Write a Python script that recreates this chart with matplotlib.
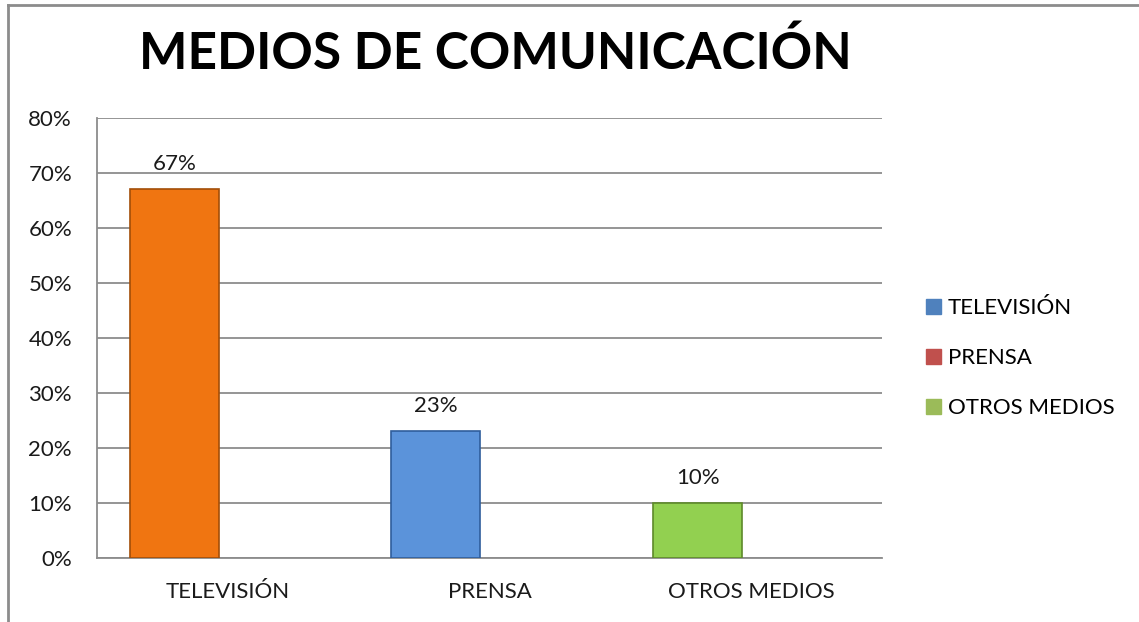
#!/usr/bin/env python

import matplotlib.pyplot as plt
import numpy as np
from matplotlib.lines import Line2D
from matplotlib.patches import Patch

categories = ["TELEVISIÓN", "PRENSA", "OTROS MEDIOS"]
values = [67, 23, 10]
bar_colors = ["#F07511", "#5B93DA", "#92D050"]
edge_colors = ["#A24E08", "#2F5E9C", "#5E8A2A"]
legend_labels = ["TELEVISIÓN", "PRENSA", "OTROS MEDIOS"]
legend_colors = ["#4F81BD", "#C0504D", "#9BBB59"]
yticks = [0, 10, 20, 30, 40, 50, 60, 70, 80]

plt.rcParams["font.family"] = ["Lato", "DejaVu Sans"]

fig = plt.figure(figsize=(11.39, 6.22), dpi=100)
ax = fig.add_axes([0.0852, 0.1029, 0.6892, 0.7074])

x = np.arange(len(categories))
bar_x = x - 0.205
bars = ax.bar(bar_x, values, width=0.34, color=bar_colors,
              edgecolor=edge_colors, linewidth=1.2, zorder=3)
for b, v in zip(bars, values):
    ax.annotate(f"{v}%", xy=(b.get_x() + b.get_width() / 2, v),
                xytext=(0, 11), textcoords="offset points",
                ha="center", va="bottom", fontsize=16, color="#1a1a1a")

ax.set_xlim(-0.5, 2.5)
ax.set_ylim(0, 80)
ax.set_yticks(yticks)
ax.set_yticklabels([f"{t}%" for t in yticks])
ax.set_xticks(x)
ax.set_xticklabels(categories)
ax.tick_params(axis="y", length=0, pad=18, labelsize=16, labelcolor="#1a1a1a")
ax.tick_params(axis="x", length=0, pad=17, labelsize=16, labelcolor="#1a1a1a")
ax.grid(axis="y", color="#8c8c8c", linewidth=1.3, zorder=0)
for s in ["top", "right"]:
    ax.spines[s].set_visible(False)
ax.spines["left"].set_color("#8c8c8c")
ax.spines["left"].set_linewidth(1.3)
ax.spines["bottom"].set_color("#8c8c8c")
ax.spines["bottom"].set_linewidth(1.3)

handles = [Patch(facecolor=c, edgecolor=c) for c in legend_colors]
fig.legend(handles, legend_labels, loc="center left",
           bbox_to_anchor=(0.795, 0.424), frameon=False, fontsize=16,
           handlelength=0.7, handleheight=0.7, handletextpad=0.3,
           labelspacing=1.35)

fig.text(495 / 1139, 0.913, "MEDIOS DE COMUNICACIÓN", ha="center",
         va="center", fontsize=37, fontweight="bold", color="black")

# chart border (top and left only visible)
fig.add_artist(Line2D([0.007, 1.0], [0.992, 0.992], color="#8c8c8c",
                      linewidth=2, transform=fig.transFigure))
fig.add_artist(Line2D([0.007, 0.007], [0.0, 0.992], color="#8c8c8c",
                      linewidth=2, transform=fig.transFigure))

plt.savefig("out.png", dpi=100)
